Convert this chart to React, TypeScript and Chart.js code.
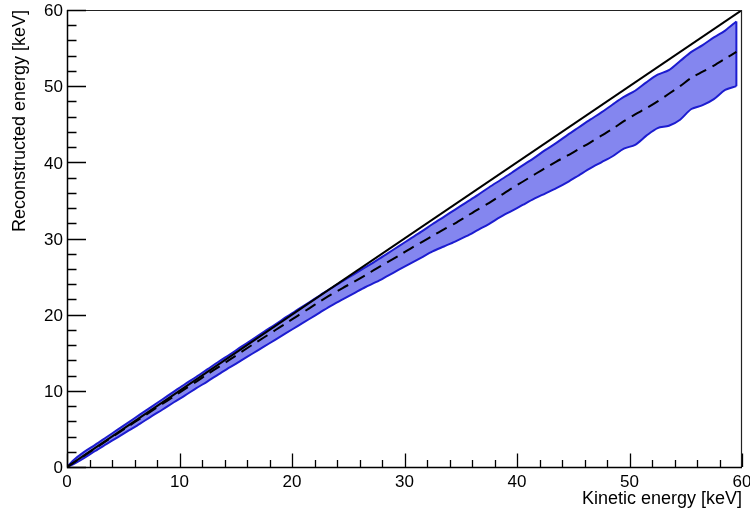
import React, { useEffect, useRef } from "react";
import { Chart, registerables } from "chart.js";

Chart.register(...registerables);

// Kinetic energy (bin centres) [keV]
const energy = [
  0, 0.5, 1.5, 2.5, 3.5, 4.5, 5.5, 6.5, 7.5, 8.5, 9.5, 10.5, 11.5, 12.5, 13.5, 14.5,
  15.5, 16.5, 17.5, 18.5, 19.5, 20.5, 21.5, 22.5, 23.5, 24.5, 25.5, 26.5, 27.5, 28.5,
  29.5, 30.5, 31.5, 32.5, 33.5, 34.5, 35.5, 36.5, 37.5, 38.5, 39.5, 40.5, 41.5, 42.5,
  43.5, 44.5, 45.5, 46.5, 47.5, 48.5, 49.5, 50.5, 51.5, 52.5, 53.5, 54.5, 55.5, 56.5,
  57.5, 58.5, 59.5,
];

// Upper edge of the reconstructed-energy band [keV]
const upperBand = [
  0, 0.8, 1.95, 2.9, 3.9, 4.9, 5.9, 6.9, 7.9, 8.9, 9.9, 10.9, 11.85, 12.85, 13.85, 14.8,
  15.8, 16.75, 17.75, 18.7, 19.7, 20.65, 21.6, 22.55, 23.5, 24.4, 25.3, 26.2, 27.1, 28.05,
  29.0, 29.95, 30.9, 31.9, 32.85, 33.8, 34.75, 35.7, 36.7, 37.65, 38.6, 39.6, 40.55, 41.6,
  42.55, 43.6, 44.6, 45.6, 46.55, 47.6, 48.6, 49.4, 50.5, 51.5, 52.1, 53.3, 54.5, 55.4,
  56.4, 57.3, 58.5,
];

// Mean reconstructed energy [keV]
const meanEnergy = [
  0, 0.48, 1.45, 2.45, 3.42, 4.4, 5.38, 6.36, 7.33, 8.3, 9.27, 10.25, 11.22, 12.2, 13.15, 14.12,
  15.1, 16.07, 17.0, 17.95, 18.9, 19.85, 20.8, 21.75, 22.65, 23.5, 24.3, 25.15, 26.05, 26.9,
  27.75, 28.65, 29.5, 30.35, 31.2, 32.0, 32.9, 33.8, 34.65, 35.6, 36.55, 37.45, 38.35, 39.25,
  40.1, 40.9, 41.75, 42.6, 43.5, 44.4, 45.4, 46.3, 47.1, 48.0, 49.0, 50.0, 51.1, 51.9,
  52.7, 53.6, 54.5,
];

// Lower edge of the reconstructed-energy band [keV]
const lowerBand = [
  0, 0.3, 1.15, 2.1, 3.0, 3.9, 4.8, 5.7, 6.65, 7.55, 8.5, 9.4, 10.35, 11.25, 12.2, 13.1,
  14.0, 14.9, 15.8, 16.7, 17.6, 18.5, 19.4, 20.3, 21.2, 22.0, 22.8, 23.6, 24.3, 25.1,
  25.9, 26.7, 27.5, 28.3, 28.95, 29.6, 30.3, 31.1, 31.9, 32.8, 33.6, 34.4, 35.2, 35.9,
  36.6, 37.4, 38.3, 39.2, 40.0, 40.8, 41.8, 42.3, 43.5, 44.5, 44.8, 45.6, 47.0, 47.5,
  48.3, 49.5, 50.0,
];

// Ideal response line (reconstructed = kinetic)
const diagonalX = [0, 60];
const diagonalY = [0, 60];

const xTicks = [0, 10, 20, 30, 40, 50, 60];
const yTicks = [0, 10, 20, 30, 40, 50, 60];
const xTitle = "Kinetic energy [keV]";
const yTitle = "Reconstructed energy [keV]";

const FONT = '"Liberation Sans", Arial, Helvetica, sans-serif';
const BAND_FILL = "#8486ef";
const BAND_LINE = "#1c1cd0";

const rootAxes = {
  id: "rootAxes",
  afterDraw(chart: any) {
    const { ctx, chartArea, scales } = chart;
    const { left, right, top, bottom } = chartArea;
    const xs = scales.x;
    const ys = scales.y;
    ctx.save();
    // frame
    ctx.strokeStyle = "#222";
    ctx.lineWidth = 1.2;
    ctx.beginPath();
    ctx.moveTo(left, top + 0.5);
    ctx.lineTo(right - 0.5, top + 0.5);
    ctx.lineTo(right - 0.5, bottom);
    ctx.stroke();
    // axes
    ctx.strokeStyle = "#000";
    ctx.lineWidth = 1.5;
    ctx.beginPath();
    ctx.moveTo(left + 0.5, top);
    ctx.lineTo(left + 0.5, bottom + 0.5);
    ctx.lineTo(right, bottom + 0.5);
    ctx.stroke();
    // ticks
    ctx.lineWidth = 1.3;
    ctx.beginPath();
    for (let v = 0; v <= 60; v += 2) {
      const major = v % 10 === 0;
      const px = Math.round(xs.getPixelForValue(v)) + 0.5;
      ctx.moveTo(px, bottom);
      ctx.lineTo(px, bottom - (major ? 13.5 : 7));
      const py = Math.round(ys.getPixelForValue(v)) + 0.5;
      ctx.moveTo(left, py);
      ctx.lineTo(left + (major ? 19 : 9.5), py);
    }
    ctx.stroke();
    // tick labels
    ctx.fillStyle = "#000";
    ctx.font = `17px ${FONT}`;
    ctx.textAlign = "center";
    ctx.textBaseline = "alphabetic";
    xTicks.forEach((v) => {
      ctx.fillText(String(v), xs.getPixelForValue(v), bottom + 20);
    });
    ctx.textAlign = "right";
    ctx.textBaseline = "middle";
    yTicks.forEach((v) => {
      ctx.fillText(String(v), left - 4, ys.getPixelForValue(v) + 1.5);
    });
    // titles
    ctx.font = `18px ${FONT}`;
    ctx.textAlign = "right";
    ctx.textBaseline = "alphabetic";
    ctx.fillText(xTitle, right, bottom + 37);
    ctx.translate(25, top);
    ctx.rotate(-Math.PI / 2);
    ctx.fillText(yTitle, 0, 0);
    ctx.restore();
  },
};

export default function App() {
  const ref = useRef<HTMLCanvasElement>(null);
  useEffect(() => {
    if (!ref.current) return;
    const pts = (ys: number[]) => energy.map((e, i) => ({ x: e, y: ys[i] }));
    const last = energy.length - 1;
    const chart = new Chart(ref.current, {
      type: "scatter",
      data: {
        datasets: [
          {
            label: "diagonal",
            data: diagonalX.map((x, i) => ({ x, y: diagonalY[i] })),
            showLine: true,
            borderColor: "#000",
            borderWidth: 2,
            pointRadius: 0,
            fill: false,
            order: 0,
          },
          {
            label: "mean",
            data: pts(meanEnergy),
            showLine: true,
            borderColor: "#000",
            borderWidth: 2,
            borderDash: [12, 7],
            pointRadius: 0,
            tension: 0.3,
            fill: false,
            order: 1,
          },
          {
            label: "upper",
            data: pts(upperBand),
            showLine: true,
            borderColor: BAND_LINE,
            borderWidth: 2,
            backgroundColor: BAND_FILL,
            pointRadius: 0,
            tension: 0.3,
            fill: "+1",
            order: 3,
          },
          {
            label: "lower",
            data: pts(lowerBand),
            showLine: true,
            borderColor: BAND_LINE,
            borderWidth: 2,
            pointRadius: 0,
            tension: 0.3,
            fill: false,
            order: 2,
          },
          {
            label: "edge",
            data: [
              { x: energy[last], y: lowerBand[last] },
              { x: energy[last], y: upperBand[last] },
            ],
            showLine: true,
            borderColor: BAND_LINE,
            borderWidth: 2,
            pointRadius: 0,
            fill: false,
            order: 2,
          },
        ],
      },
      options: {
        responsive: false,
        animation: false,
        devicePixelRatio: 1,
        layout: { padding: { left: 67, right: 8, top: 10, bottom: 47 } },
        plugins: {
          legend: { display: false },
          tooltip: { enabled: false },
        },
        scales: {
          x: { type: "linear", min: 0, max: 60, display: false },
          y: { type: "linear", min: 0, max: 60, display: false },
        },
      },
      plugins: [rootAxes],
    });
    return () => chart.destroy();
  }, []);
  return (
    <div style={{ position: "absolute", left: 0, top: 0, width: 750, height: 514, background: "#fff" }}>
      <canvas ref={ref} width={750} height={514} />
    </div>
  );
}
